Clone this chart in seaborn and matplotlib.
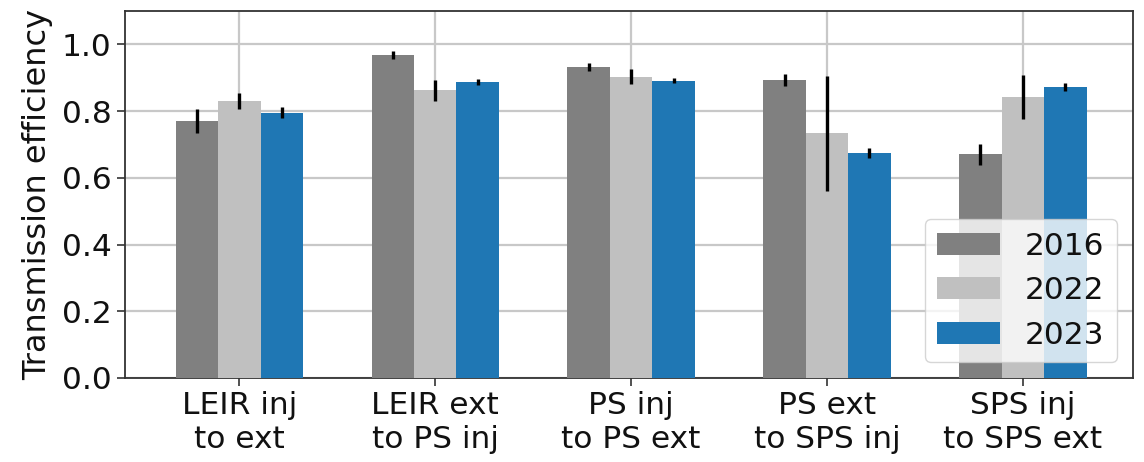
import numpy as np
import pandas as pd
import matplotlib
matplotlib.use("Agg")
import matplotlib.pyplot as plt
import seaborn as sns

# Transfer stages along the ion injector chain
stages = ["LEIR inj\nto ext", "LEIR ext\nto PS inj", "PS inj\nto PS ext",
          "PS ext\nto SPS inj", "SPS inj\nto SPS ext"]
years = ["2016", "2022", "2023"]

# Mean transmission efficiency per stage
eff_2016 = [0.770, 0.967, 0.932, 0.894, 0.670]
eff_2022 = [0.830, 0.862, 0.903, 0.734, 0.842]
eff_2023 = [0.795, 0.887, 0.891, 0.675, 0.872]

# Spread (half-length of error bar)
err_2016 = [0.036, 0.012, 0.012, 0.018, 0.031]
err_2022 = [0.024, 0.032, 0.023, 0.172, 0.065]
err_2023 = [0.016, 0.009, 0.007, 0.015, 0.013]

colors = ["#808080", "#c0c0c0", "#1f77b4"]

df = pd.DataFrame({
    "stage": stages * 3,
    "year": [y for y in years for _ in stages],
    "eff": eff_2016 + eff_2022 + eff_2023,
    "err": err_2016 + err_2022 + err_2023,
})

sns.set_style("ticks")
plt.rcParams["font.family"] = ["DejaVu Sans"]
plt.rcParams["text.color"] = "#111111"
plt.rcParams["axes.labelcolor"] = "#111111"
plt.rcParams["xtick.color"] = "#333333"
plt.rcParams["ytick.color"] = "#333333"
plt.rcParams["xtick.labelcolor"] = "#111111"
plt.rcParams["ytick.labelcolor"] = "#111111"

FS = 22.5

fig = plt.figure(figsize=(11.44, 4.62), dpi=100)
ax = fig.add_axes([0.109, 0.182, 0.881, 0.794])

sns.barplot(data=df, x="stage", y="eff", hue="year", hue_order=years,
            palette=colors, width=0.65, gap=0, errorbar=None,
            saturation=1, linewidth=0, ax=ax, zorder=3)

# Error bars placed at the centres of the drawn bars
for container, year in zip(ax.containers, years):
    sub = df[df["year"] == year]
    xs = [p.get_x() + p.get_width() / 2 for p in container.patches]
    ax.errorbar(xs, sub["eff"].values, yerr=sub["err"].values, fmt="none",
                ecolor="black", elinewidth=2.4, capsize=0, zorder=4)

ax.set_xlim(-0.585, 4.56)
ax.set_ylim(0, 1.1)
ticks = [0.0, 0.2, 0.4, 0.6, 0.8, 1.0]
ax.set_yticks(ticks)
ax.set_yticklabels([f"{v:.1f}" for v in ticks])
ax.grid(True, axis="both", color="#c8c8c8", linewidth=1.6, zorder=0)
ax.set_axisbelow(True)

ax.set_xlabel("")
ax.set_ylabel("Transmission efficiency", fontsize=FS + 0.5, labelpad=6)
ax.tick_params(axis="both", labelsize=FS, length=6, width=1.2,
               direction="out")
for s in ax.spines.values():
    s.set_color("#333333")
    s.set_linewidth(1.3)

leg = ax.legend(loc="lower right", fontsize=FS, frameon=True, framealpha=0.8,
                edgecolor="#cccccc", title=None)

fig.savefig("out.png", dpi=100)
